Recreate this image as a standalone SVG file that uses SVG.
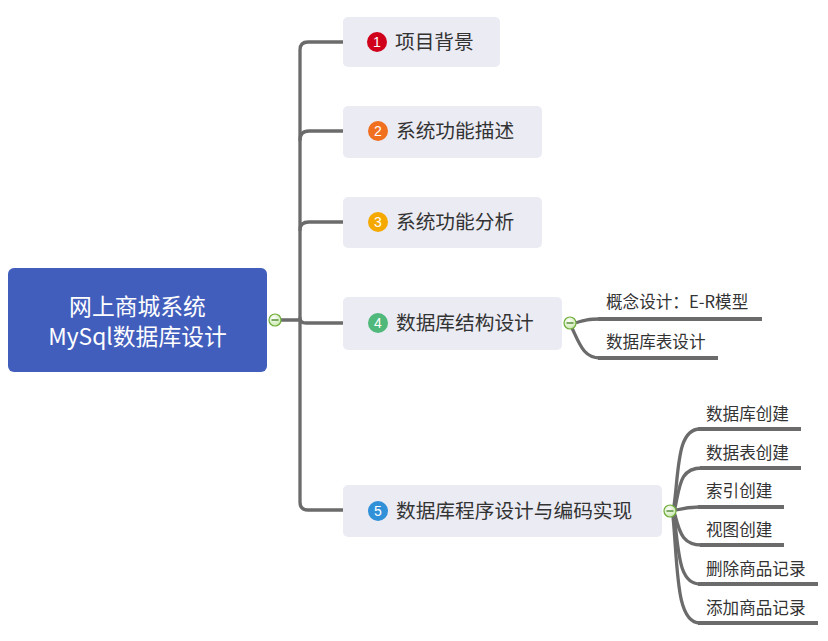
<svg xmlns="http://www.w3.org/2000/svg" width="828" height="641" viewBox="0 0 828 641">
<defs>
<style>
.node{fill:#ebebf3;}
.t{font-family:"Noto Sans CJK SC","Liberation Sans",sans-serif;fill:#333333;}
.nt{font-size:19.7px;}
.ct{font-size:16.6px;}
.rt{font-family:"Noto Sans CJK SC","Liberation Sans",sans-serif;fill:#ffffff;font-size:22.8px;text-anchor:middle;}
.bt{font-family:"Liberation Sans",sans-serif;fill:#ffffff;font-size:14px;text-anchor:middle;}
.c{fill:none;stroke:#6b6b6b;stroke-width:3.3;stroke-linecap:round;}
.u{fill:none;stroke:#6b6b6b;stroke-width:3.8;}
.col{fill:url(#g);stroke:#6fae3a;stroke-width:1.2;}
.minus{stroke:#3f7f1a;stroke-width:1.3;}
</style>
<radialGradient id="g" cx="0.4" cy="0.35" r="0.7">
<stop offset="0" stop-color="#ffffff"/>
<stop offset="1" stop-color="#c6e6a8"/>
</radialGradient>
</defs>
<rect width="828" height="641" fill="#ffffff"/>
<g id="connectors">
<path class="c" d="M280,320 H300" stroke-width="4.5"/>
<path class="c" d="M300,320 V50 Q300,42 308,42 H343"/>
<path class="c" d="M300,140 Q300,131 309,131 H343"/>
<path class="c" d="M300,230 Q300,222 309,222 H343"/>
<path class="c" d="M300,318 Q300,323 306,323 H343"/>
<path class="c" d="M300,320 V502 Q300,510 308,510 H343"/>
<path class="c" d="M575,323 C585,320 588,319 600,319"/>
<path class="u" d="M598,319 H762"/>
<path class="c" d="M572,328 C580,345 584,358 600,358"/>
<path class="u" d="M598,358 H718"/>
<path class="c" d="M674,506 C679,470 677,429 700,429"/>
<path class="u" d="M698,429 H801"/>
<path class="c" d="M675,508 C680,485 680,468 702,468"/>
<path class="u" d="M700,468 H801"/>
<path class="c" d="M676,510 C684,508 688,507 700,507"/>
<path class="u" d="M698,507 H784"/>
<path class="c" d="M675,515 C680,535 684,545 702,545"/>
<path class="u" d="M700,545 H784"/>
<path class="c" d="M674,516 C679,550 678,584 700,584"/>
<path class="u" d="M698,584 H818"/>
<path class="c" d="M673,516 C678,570 676,623 700,623"/>
<path class="u" d="M698,623 H818"/>
</g>
<g id="root">
<rect x="8" y="268" width="259" height="104" rx="6" fill="#425ebd"/>
<text class="rt" x="137.5" y="315">网上商城系统</text>
<text class="rt" x="137.5" y="345">MySql数据库设计</text>
<circle class="col" cx="275" cy="320" r="6"/>
<line class="minus" x1="271.5" y1="320" x2="278.5" y2="320"/>
</g>
<g id="n1">
<rect class="node" x="343" y="17" width="157" height="50" rx="5"/>
<circle cx="377" cy="42" r="10" fill="#d0021b"/>
<text class="bt" x="377" y="47">1</text>
<text class="t nt" x="395" y="49">项目背景</text>
</g>
<g id="n2">
<rect class="node" x="343" y="106" width="199" height="52" rx="5"/>
<circle cx="378" cy="131" r="10" fill="#f07020"/>
<text class="bt" x="378" y="136">2</text>
<text class="t nt" x="396" y="138">系统功能描述</text>
</g>
<g id="n3">
<rect class="node" x="343" y="197" width="199" height="51" rx="5"/>
<circle cx="378" cy="222" r="10" fill="#f5a800"/>
<text class="bt" x="378" y="227">3</text>
<text class="t nt" x="396" y="229">系统功能分析</text>
</g>
<g id="n4">
<rect class="node" x="343" y="297" width="219" height="53" rx="5"/>
<circle cx="378" cy="323" r="10" fill="#4fb87a"/>
<text class="bt" x="378" y="328">4</text>
<text class="t nt" x="396" y="330">数据库结构设计</text>
<circle class="col" cx="570" cy="323" r="6"/>
<line class="minus" x1="566.5" y1="323" x2="573.5" y2="323"/>
</g>
<g id="n4a"><text class="t ct" x="606" y="308">概念设计：E-R模型</text></g>
<g id="n4b"><text class="t ct" x="606" y="348">数据库表设计</text></g>
<g id="n5">
<rect class="node" x="343" y="485" width="319" height="52" rx="5"/>
<circle cx="378" cy="511" r="10" fill="#3090d8"/>
<text class="bt" x="378" y="516">5</text>
<text class="t nt" x="396" y="518">数据库程序设计与编码实现</text>
<circle class="col" cx="670" cy="511" r="6"/>
<line class="minus" x1="666.5" y1="511" x2="673.5" y2="511"/>
</g>
<g id="n5a"><text class="t ct" x="706" y="420">数据库创建</text></g>
<g id="n5b"><text class="t ct" x="706" y="459">数据表创建</text></g>
<g id="n5c"><text class="t ct" x="706" y="497">索引创建</text></g>
<g id="n5d"><text class="t ct" x="706" y="536">视图创建</text></g>
<g id="n5e"><text class="t ct" x="706" y="575">删除商品记录</text></g>
<g id="n5f"><text class="t ct" x="706" y="614">添加商品记录</text></g>
</svg>
